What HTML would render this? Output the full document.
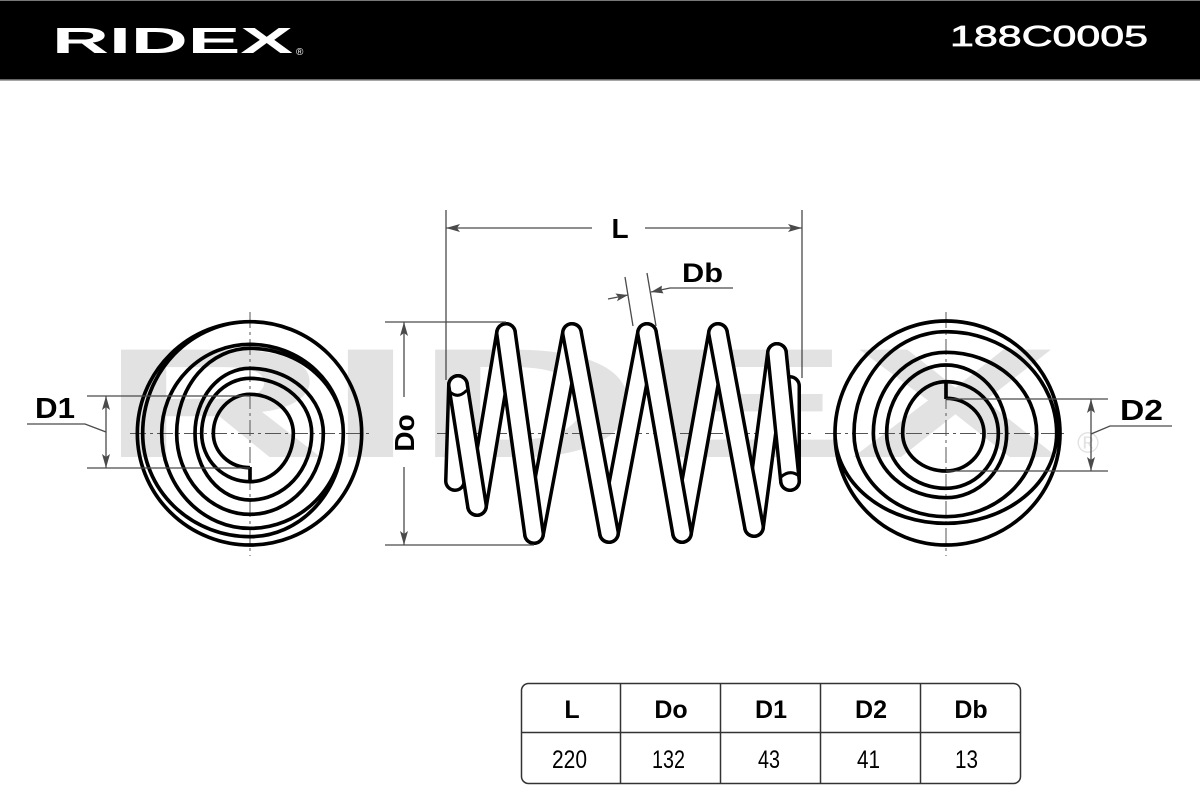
<!DOCTYPE html>
<html>
<head>
<meta charset="utf-8">
<style>
  html, body { margin: 0; padding: 0; background: #fff; }
  body { width: 1200px; height: 800px; overflow: hidden; }
  svg { display: block; }
  text { font-family: "Liberation Sans", "DejaVu Sans", sans-serif; }
</style>
</head>
<body>
<svg width="1200" height="800" viewBox="0 0 1200 800" xmlns="http://www.w3.org/2000/svg">
  <rect x="0" y="0" width="1200" height="800" fill="#fff"/>

  <!-- watermark -->
  <text x="100" y="457" font-size="156" font-weight="bold" fill="#e2e2e2" textLength="960" lengthAdjust="spacingAndGlyphs">RIDEX</text>
  <text x="1077" y="453" font-size="30" fill="#e2e2e2">®</text>

  <!-- header -->
  <rect x="0" y="0" width="1200" height="80" fill="#000"/>
  <line x1="0" y1="0.5" x2="1200" y2="0.5" stroke="#777" stroke-width="1"/>
  <line x1="0" y1="80" x2="1200" y2="80" stroke="#888" stroke-width="1.5"/>
  <text x="52" y="53" font-size="36" font-weight="bold" fill="#fff" textLength="241" lengthAdjust="spacingAndGlyphs">RIDEX</text>
  <text x="296" y="55" font-size="10" fill="#fff">®</text>
  <text x="950" y="46" font-size="29" fill="#fff" stroke="#fff" stroke-width="0.7" textLength="198" lengthAdjust="spacingAndGlyphs">188C0005</text>

  <!-- center lines -->
  <g stroke="#555" stroke-width="1" stroke-dasharray="16 4 3 4" fill="none">
    <line x1="250" y1="312" x2="250" y2="556"/>
    <line x1="130" y1="433.5" x2="372" y2="433.5"/>
    <line x1="946" y1="312" x2="946" y2="556"/>
    <line x1="825" y1="433.5" x2="1067" y2="433.5"/>
    <line x1="437" y1="433.5" x2="813" y2="433.5"/>
  </g>

  <!-- left spiral -->
  <g transform="translate(130,315) scale(0.333333)" fill="none" stroke="#000" stroke-width="11" stroke-linejoin="round">
    <path d="M360,458
      A110,103 0 0 1 250,355
      A110,117 0 0 1 360,238
      A130,117 0 0 1 490,355
      A130,145 0 0 1 360,500
      A145,145 0 0 1 215,355
      A145,165 0 0 1 360,190
      A185,165 0 0 1 545,355
      A185,200 0 0 1 360,555
      A165,200 0 0 1 195,355
      A165,195 0 0 1 360,160
      A220,195 0 0 1 580,355
      A220,243 0 0 1 360,598
      A220,243 0 0 1 140,355
      A220,255 0 0 1 360,100
      A280,255 0 0 1 640,355
      A280,285 0 0 1 360,640
      A265,285 0 0 1 95,355
      A265,267 0 0 1 360,88
      A280,267 0 0 1 640,355
      A280,310 0 0 1 360,665
      A322,310 0 0 1 38,355
      A322,335 0 0 1 360,20
      A335,335 0 0 1 695,355
      A335,335 0 0 1 360,690
      A338,335 0 0 1 22,355
      A338,335 0 0 1 360,20"/>
    <path d="M360,456 V502"/>
  </g>

  <!-- right spiral -->
  <g transform="translate(830,315) scale(0.333333)" fill="none" stroke="#000" stroke-width="11" stroke-linejoin="round">
    <path d="M348,250
      A114,105 0 0 1 462,355
      A114,113 0 0 1 348,468
      A130,113 0 0 1 218,355
      A130,155 0 0 1 348,200
      A157,155 0 0 1 505,355
      A157,165 0 0 1 348,520
      A178,165 0 0 1 170,355
      A178,205 0 0 1 348,150
      A182,205 0 0 1 530,355
      A182,193 0 0 1 348,548
      A218,193 0 0 1 130,355
      A218,243 0 0 1 348,112
      A272,243 0 0 1 620,355
      A272,250 0 0 1 348,605
      A276,250 0 0 1 72,355
      A276,305 0 0 1 348,50
      A332,305 0 0 1 680,355
      A332,270 0 0 1 348,625
      A333,270 0 0 1 15,355
      A333,337 0 0 1 348,18
      A342,337 0 0 1 690,355
      A342,335 0 0 1 348,690
      A333,335 0 0 1 15,355"/>
    <path d="M348,198 V252"/>
  </g>

  <!-- spring: back tubes -->
  <g fill="none" stroke-linecap="round">
    <line x1="455" y1="481" x2="458" y2="385" stroke="#000" stroke-width="22"/>
    <line x1="455" y1="481" x2="458" y2="385" stroke="#fff" stroke-width="15"/>
    <line x1="477" y1="506" x2="506" y2="333" stroke="#000" stroke-width="22"/>
    <line x1="477" y1="506" x2="506" y2="333" stroke="#fff" stroke-width="15"/>
    <line x1="534" y1="534" x2="572" y2="333" stroke="#000" stroke-width="22"/>
    <line x1="534" y1="534" x2="572" y2="333" stroke="#fff" stroke-width="15"/>
    <line x1="609" y1="533" x2="647" y2="333" stroke="#000" stroke-width="22"/>
    <line x1="609" y1="533" x2="647" y2="333" stroke="#fff" stroke-width="15"/>
    <line x1="682" y1="533" x2="718" y2="333" stroke="#000" stroke-width="22"/>
    <line x1="682" y1="533" x2="718" y2="333" stroke="#fff" stroke-width="15"/>
    <line x1="754" y1="527" x2="777" y2="353" stroke="#000" stroke-width="22"/>
    <line x1="754" y1="527" x2="777" y2="353" stroke="#fff" stroke-width="15"/>
    <line x1="790" y1="386" x2="790" y2="481" stroke="#000" stroke-width="22"/>
    <line x1="790" y1="386" x2="790" y2="481" stroke="#fff" stroke-width="15"/>

    <!-- front tubes -->
    <line x1="458" y1="385" x2="477" y2="506" stroke="#000" stroke-width="22"/>
    <line x1="458" y1="385" x2="477" y2="506" stroke="#fff" stroke-width="15"/>
    <line x1="506" y1="333" x2="534" y2="534" stroke="#000" stroke-width="22"/>
    <line x1="506" y1="333" x2="534" y2="534" stroke="#fff" stroke-width="15"/>
    <line x1="572" y1="333" x2="609" y2="533" stroke="#000" stroke-width="22"/>
    <line x1="572" y1="333" x2="609" y2="533" stroke="#fff" stroke-width="15"/>
    <line x1="647" y1="333" x2="682" y2="533" stroke="#000" stroke-width="22"/>
    <line x1="647" y1="333" x2="682" y2="533" stroke="#fff" stroke-width="15"/>
    <line x1="718" y1="333" x2="754" y2="527" stroke="#000" stroke-width="22"/>
    <line x1="718" y1="333" x2="754" y2="527" stroke="#fff" stroke-width="15"/>
    <line x1="777" y1="353" x2="790" y2="481" stroke="#000" stroke-width="22"/>
    <line x1="777" y1="353" x2="790" y2="481" stroke="#fff" stroke-width="15"/>

    <!-- cut-end arcs -->
    <path d="M450,392 Q458,399 466,391" stroke="#000" stroke-width="3"/>
    <path d="M781,477 Q790,469 799,476" stroke="#000" stroke-width="3"/>
  </g>

  <!-- dimension lines -->
  <g stroke="#4a4a4a" stroke-width="1.3" fill="none">
    <line x1="446" y1="210" x2="446" y2="380"/>
    <line x1="802" y1="210" x2="802" y2="378"/>
    <line x1="446" y1="228" x2="592" y2="228"/>
    <line x1="645" y1="228" x2="802" y2="228"/>
    <line x1="385" y1="322" x2="506" y2="322"/>
    <line x1="385" y1="545" x2="534" y2="545"/>
    <line x1="404" y1="322" x2="404" y2="397"/>
    <line x1="404" y1="467" x2="404" y2="545"/>
    <line x1="87" y1="396" x2="250" y2="396"/>
    <line x1="87" y1="468" x2="250" y2="468"/>
    <line x1="106" y1="396" x2="106" y2="468"/>
    <polyline points="27,424 85,424 106,432"/>
    <line x1="946" y1="399" x2="1108" y2="399"/>
    <line x1="946" y1="471" x2="1108" y2="471"/>
    <line x1="1091" y1="399" x2="1091" y2="471"/>
    <polyline points="1091,434 1110,426 1172,426"/>
    <line x1="625" y1="277" x2="633" y2="326"/>
    <line x1="647" y1="273" x2="656" y2="326"/>
    <line x1="608" y1="299" x2="628" y2="295"/>
    <polyline points="651,292 670,288 733,288"/>
  </g>

  <!-- arrowheads -->
  <g fill="#4a4a4a">
    <polygon points="446,228 460,224 457,228 460,232"/>
    <polygon points="802,228 788,224 791,228 788,232"/>
    <polygon points="404,322 400,336 404,333 408,336"/>
    <polygon points="404,545 400,531 404,534 408,531"/>
    <polygon points="106,396 102,410 106,407 110,410"/>
    <polygon points="106,468 102,454 106,457 110,454"/>
    <polygon points="1091,399 1087,413 1091,410 1095,413"/>
    <polygon points="1091,471 1087,457 1091,460 1095,457"/>
    <polygon points="628,295 617,301.3 618.6,297.2 615.4,293.5"/>
    <polygon points="651,292 663.5,293.4 661.5,289.7 661.9,285.6"/>
  </g>

  <!-- dimension labels -->
  <g font-weight="bold" fill="#000">
    <text x="620" y="238" font-size="28" text-anchor="middle">L</text>
    <text x="682" y="282" font-size="27" textLength="41" lengthAdjust="spacingAndGlyphs">Db</text>
    <text transform="translate(414,433) rotate(-90)" font-size="28" text-anchor="middle">Do</text>
    <text x="35" y="418" font-size="29" textLength="40" lengthAdjust="spacingAndGlyphs">D1</text>
    <text x="1120" y="420" font-size="29" textLength="43" lengthAdjust="spacingAndGlyphs">D2</text>
  </g>

  <!-- table -->
  <g fill="none" stroke="#333" stroke-width="1.5">
    <rect x="521.5" y="683.5" width="499" height="100" rx="7" ry="7"/>
    <line x1="521.5" y1="732.5" x2="1020.5" y2="732.5"/>
    <line x1="620.5" y1="683.5" x2="620.5" y2="783.5"/>
    <line x1="720.5" y1="683.5" x2="720.5" y2="783.5"/>
    <line x1="820.5" y1="683.5" x2="820.5" y2="783.5"/>
    <line x1="920.5" y1="683.5" x2="920.5" y2="783.5"/>
  </g>
  <g font-weight="bold" font-size="25" text-anchor="middle" fill="#000">
    <text x="572" y="718">L</text>
    <text x="671" y="718">Do</text>
    <text x="771" y="718">D1</text>
    <text x="871" y="718">D2</text>
    <text x="971" y="718">Db</text>
  </g>
  <g font-size="25" fill="#000">
    <text x="552" y="768" textLength="35" lengthAdjust="spacingAndGlyphs">220</text>
    <text x="652" y="768" textLength="33" lengthAdjust="spacingAndGlyphs">132</text>
    <text x="758" y="768" textLength="22" lengthAdjust="spacingAndGlyphs">43</text>
    <text x="857" y="768" textLength="23" lengthAdjust="spacingAndGlyphs">41</text>
    <text x="955" y="768" textLength="23" lengthAdjust="spacingAndGlyphs">13</text>
  </g>
</svg>
</body>
</html>
